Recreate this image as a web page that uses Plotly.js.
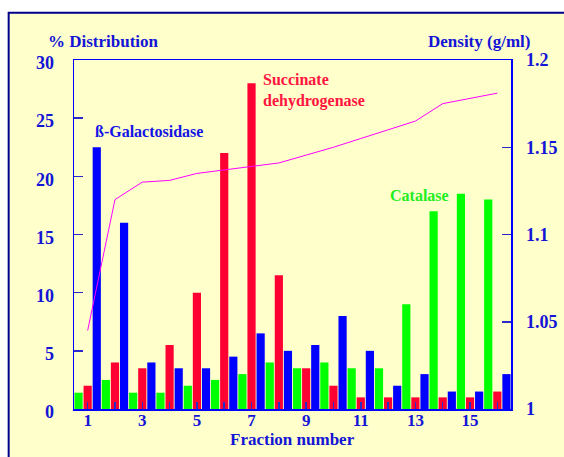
<!DOCTYPE html>
<html>
<head>
<meta charset="utf-8">
<script src="https://cdn.plot.ly/plotly-3.0.1.min.js"></script>
<style>html,body{margin:0;padding:0;background:#fff;}</style>
</head>
<body>
<div id="chart" style="width:564px;height:457px;"></div>
<script>
// Data
const fractions = [1,2,3,4,5,6,7,8,9,10,11,12,13,14,15,16];
const catalase = [1.4,2.5,1.4,1.4,2,2.5,3,4,3.5,4,3.5,3.5,9,17,18.5,18];
const succinateDehydrogenase = [2,4,3.5,5.5,10,22,28,11.5,3.5,2,1,1,1,1,1,1.5];
const betaGalactosidase = [22.5,16,4,3.5,3.5,4.5,6.5,5,5.5,8,5,2,3,1.5,1.5,3];
const density = [1.045,1.12,1.13,1.131,1.135,1.137,1.139,1.141,1.1455,1.15,1.155,1.16,1.165,1.175,1.178,1.181];
const xTickText = ['1','','3','','5','','7','','9','','11','','13','','15',''];
const leftTicks = [0,5,10,15,20,25,30];
const rightTicks = [1,1.05,1.1,1.15,1.2];
const rightTickText = ['1','1.05','1.1','1.15','1.2'];

const serif = 'Liberation Serif, Times New Roman, serif';
const blueText = '#1414d6';

const traces = [
  {type:'bar', x:fractions, y:catalase, name:'Catalase', marker:{color:'#00ff00', line:{width:0}}},
  {type:'bar', x:fractions, y:succinateDehydrogenase, name:'Succinate dehydrogenase', marker:{color:'#ff0033', line:{width:0}}},
  {type:'bar', x:fractions, y:betaGalactosidase, name:'ß-Galactosidase', marker:{color:'#0000ff', line:{width:0}}},
  {type:'scatter', mode:'lines', x:fractions, y:density, yaxis:'y2', name:'Density', line:{color:'#ff00ff', width:1}}
];

const tickFont = {family:serif, size:18, color:blueText, weight:'bold'};

const layout = {
  width:564, height:457,
  margin:{l:74, r:53, t:60, b:48, pad:0},
  paper_bgcolor:'#ffffff',
  plot_bgcolor:'rgba(0,0,0,0)',
  showlegend:false,
  barmode:'group', bargap:0, bargroupgap:0.1,
  xaxis:{
    range:[0.5,16.5], tickvals:fractions, ticktext:xTickText,
    ticks:'inside', ticklen:7, tickwidth:1.5, tickcolor:'#2a2ac8',
    showline:true, linecolor:'#0000ff', linewidth:1.5, mirror:true,
    showgrid:false, zeroline:false, tickfont:{family:serif, size:17, color:blueText, weight:'bold'}, ticklabelstandoff:-5
  },
  yaxis:{
    range:[0,30], tickvals:leftTicks, ticks:'inside', ticklen:9, tickwidth:1.5, tickcolor:'#2a2ac8',
    showline:true, linecolor:'#0000ff', linewidth:1.5,
    showgrid:false, zeroline:false, tickfont:tickFont, ticklabelstandoff:15, ticklabelshift:3
  },
  yaxis2:{
    overlaying:'y', side:'right', range:[1,1.2], tickvals:rightTicks, ticktext:rightTickText,
    ticks:'inside', ticklen:9, tickwidth:1.5, tickcolor:'#2a2ac8',
    showline:true, linecolor:'#0000ff', linewidth:1.5,
    showgrid:false, zeroline:false, tickfont:tickFont, ticklabelstandoff:10
  },
  shapes:[
    {type:'rect', xref:'paper', yref:'paper', x0:-0.1495, x1:1.4, y0:-0.3, y1:1.1356,
     fillcolor:'#ffffcc', line:{color:'#00008b', width:2}, layer:'below'}
  ],
  annotations:[
    {xref:'paper', yref:'paper', x:-0.0648, y:1.0525, xanchor:'left', yanchor:'middle', showarrow:false,
     text:'% Distribution', font:{family:serif, size:17, color:blueText, weight:'bold'}},
    {xref:'paper', yref:'paper', x:1.048, y:1.0525, xanchor:'right', yanchor:'middle', showarrow:false,
     text:'Density (g/ml)', font:{family:serif, size:17, color:blueText, weight:'bold'}},
    {xref:'paper', yref:'paper', x:0.5008, y:-0.088, xanchor:'center', yanchor:'middle', showarrow:false,
     text:'Fraction number', font:{family:serif, size:17, color:blueText, weight:'bold'}},
    {xref:'x', yref:'y', x:1.18, y:23.86, xanchor:'left', yanchor:'middle', showarrow:false,
     text:'ß-Galactosidase', font:{family:serif, size:16, color:'#1414e6', weight:'bold'}},
    {xref:'x', yref:'y', x:7.36, y:27.38, xanchor:'left', yanchor:'middle', align:'left', showarrow:false,
     text:'Succinate<br>dehydrogenase', font:{family:serif, size:16, color:'#ff1440', weight:'bold'}},
    {xref:'x', yref:'y', x:12.0, y:18.33, xanchor:'left', yanchor:'middle', showarrow:false,
     text:'Catalase', font:{family:serif, size:16, color:'#22ee22', weight:'bold'}}
  ]
};

Plotly.newPlot('chart', traces, layout, {displayModeBar:false, staticPlot:true});
</script>
</body>
</html>
